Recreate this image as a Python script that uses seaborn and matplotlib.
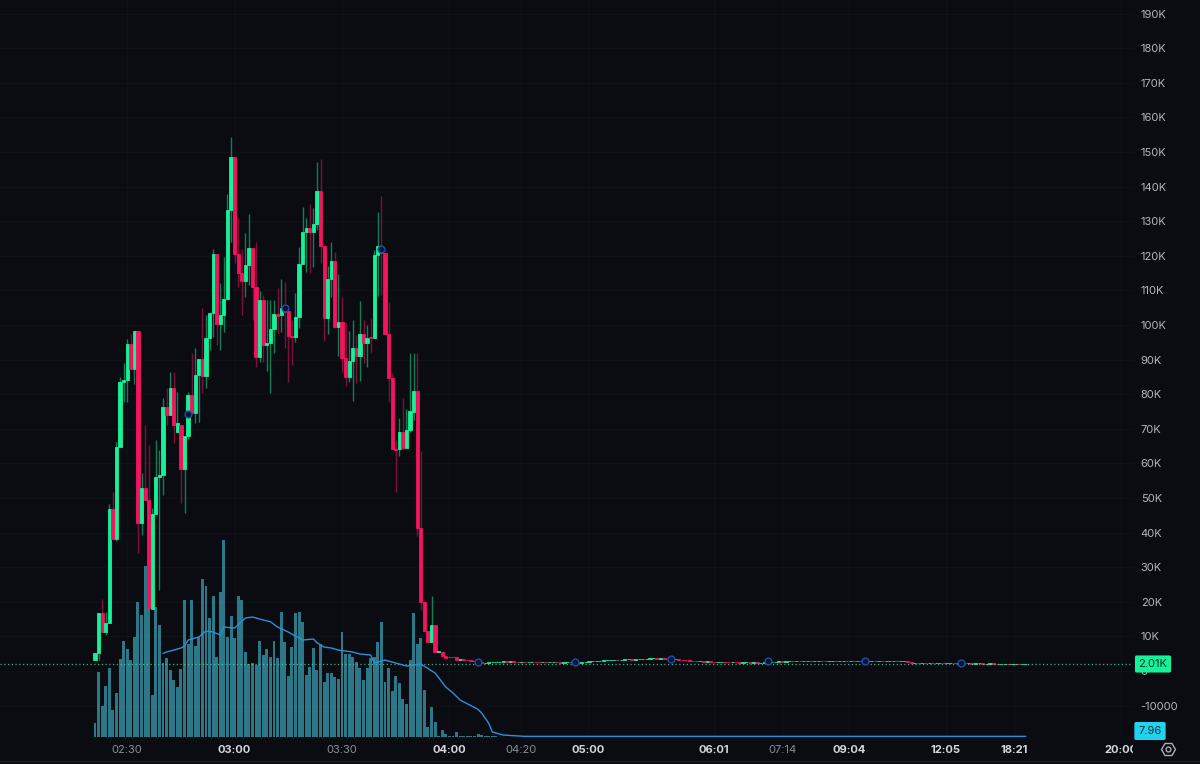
"""
Candlestick chart with volume bars and a volume average, dark theme.
"""

import matplotlib.pyplot as plt
import numpy as np
import pandas as pd
import seaborn as sns
from matplotlib.lines import Line2D
from matplotlib.transforms import Bbox

# one row per minute candle, prices in thousands
opens = [
    3.2, 5.3, 16.7, 11.2, 13.8, 46.8, 38.1, 64.7, 83.5, 84, 94.5, 87.3, 98.3, 42.8, 52.9, 49.4, 17.9,
    45.4, 56, 56.6, 76.3, 74, 81.8, 69, 71, 58.4, 67.9, 79.8, 74.6, 85.5, 90.2, 85.3, 96.2, 103.5,
    120.5, 100.3, 102.9, 107.5, 133.2, 148.6, 120.5, 115, 112.7, 117.3, 122.2, 111, 90.8, 107.2,
    94.2, 94.7, 98.8, 103.1, 102.9, 104.8, 104.1, 96.9, 96.4, 102.2, 117.5, 127, 127.9, 126.8,
    129.1, 138.7, 122.9, 101.9, 113.3, 118.5, 99.5, 101, 90.4, 84.9, 89.6, 93.3, 90.9, 97.4, 94.7,
    96.4, 96.1, 120.2, 122.9, 120.7, 97.4, 84.8, 64.3, 64.3, 69, 64.5, 69.6, 75, 80.9, 41.4, 19.8,
    11.5, 8.5, 13.3, 5.6, 5.6, 4.3, 4.1, 4.1, 4.1,
]
closes = [
    5.3, 16.7, 11.2, 13.8, 46.8, 38.1, 64.7, 83.5, 84, 94.5, 87.3, 98.3, 42.8, 52.9, 49.4, 18.2, 45.4,
    56, 56.6, 76.3, 74, 81.8, 71, 71.7, 58.4, 67.9, 79.8, 74.6, 85.5, 90.2, 85.3, 96.2, 103.5, 120.5,
    100.3, 102.9, 107.5, 133.2, 148.6, 120.5, 115, 112.7, 117.3, 122.2, 111, 90.8, 107.2, 94.2,
    94.7, 98.8, 103.1, 102.7, 104.8, 103.9, 96.9, 96.4, 102.2, 117.5, 127, 127.9, 126.8, 129.1,
    138.7, 122.9, 101.9, 113.3, 118.5, 99.5, 101, 90.4, 84.9, 89.6, 93.3, 90.9, 97.4, 94.7, 96.1,
    96.1, 120.2, 122.9, 120.7, 97.4, 84.8, 64.3, 64, 69, 64.5, 69.6, 75.1, 80.9, 41.4, 19.8, 11.5,
    8.5, 13.3, 5.6, 5.9, 4.3, 3.9, 4.0, 4.0, 3.2,
]
highs = [
    5.3, 16.7, 20.8, 17.1, 48.2, 51.7, 66.2, 85, 89, 96, 97.4, 98.3, 98.3, 57.2, 71, 65.3, 47,
    66.8, 63.9, 78.9, 81.8, 86.4, 86.4, 80.6, 71, 67.9, 80.6, 91.9, 93.4, 90.2, 105, 102.9, 103.8, 122,
    120.5, 112, 119.7, 137.9, 154.3, 148.6, 130.9, 122, 126.6, 132, 122.2, 124, 109.8, 108.7,
    107.2, 107.2, 107.2, 110.6, 113.3, 112.5, 104.1, 101.4, 109.3, 122.6, 134, 130.8, 134.9, 133.7,
    147.2, 147.9, 122.9, 117, 124.1, 121.2, 114.6, 108.2, 101, 98.4, 101.4, 97.1, 106.9, 101.4, 100,
    101.9, 121.7, 132.6, 137.4, 120.7, 106.7, 86.2, 66.7, 73, 78.8, 75.6, 92, 92, 92, 63.7, 19.8,
    11.5, 21.6, 13.3, 5.9, 5.6, 4.3, 4.1, 4.1, 4.1,
]
lows = [
    3.2, 3.2, 11.2, 10.4, 13.8, 38.1, 37.5, 64.7, 77.7, 77.7, 87.3, 83, 34, 39.3, 49.4, 18.2, 17.9,
    45.4, 23.4, 50.9, 71, 74, 65.9, 69, 48.5, 45.7, 67, 74.6, 71.7, 72, 80.3, 81.8, 92.8, 96.5,
    94.2, 92.8, 98, 107.5, 124, 118, 111, 102.9, 108, 111.6, 101.4, 87.9, 89.3, 89.3,
    86.8, 80.4, 92, 97.6, 98.1, 93.3, 83.4, 88.5, 95.2, 99, 117.5, 115.4, 114.9, 116.9,
    127.5, 117.8, 95.5, 97.4, 108.2, 99.5, 90.9, 86.5, 82.5, 83.6, 78, 83.1, 83.9, 88.9, 88,
    91.8, 96.1, 108.5, 108.7, 97.4, 77.8, 64.3, 51.8, 62.1, 64.5, 64.5, 69, 72.5, 39, 17.6, 11.5,
    8.5, 8.5, 5.6, 5.6, 4.3, 3.9, 4.0, 4.0, 3.2,
]

# the long flat tail, closes only
tail_closes = [
    3.4, 3.3, 3.2, 3.0, 2.8, 2.6, 2.3, 2.4, 2.5, 2.6, 2.7, 2.7, 2.8, 2.7, 2.8, 2.7, 2.6, 2.7, 2.6, 2.6,
    2.7, 2.6, 2.5, 2.6, 2.5, 2.6, 2.6, 2.5, 2.4, 2.5, 2.5, 2.6, 2.5, 2.4, 2.6, 2.7, 2.8, 2.9, 3.0, 3.0,
    3.1, 3.2, 3.2, 3.3, 3.2, 3.3, 3.4, 3.4, 3.3, 3.4, 3.5, 3.6, 3.6, 3.7, 3.7, 3.6, 3.7, 3.6, 3.5, 3.4,
    3.4, 3.3, 3.2, 3.1, 3.0, 2.9, 2.8, 2.8, 2.7, 2.8, 2.7, 2.6, 2.6, 2.7, 2.6, 2.5, 2.6, 2.5, 2.4, 2.5,
    2.5, 2.4, 2.5, 2.4, 2.4, 2.5, 2.6, 2.6, 2.7, 2.8, 2.7, 2.8, 2.9, 2.8, 2.9, 2.8, 2.9, 3.0, 2.9, 2.9,
    3.0, 2.9, 2.8, 2.9, 3.0, 2.9, 2.9, 3.0, 2.9, 2.9, 2.8, 2.9, 2.9, 2.9, 2.9, 3.0, 2.9, 2.9, 2.8, 2.9,
    2.9, 2.9, 2.8, 2.9, 2.9, 2.5, 2.4, 2.4, 2.3, 2.4, 2.3, 2.3, 2.2, 2.3, 2.3, 2.2, 2.2, 2.3, 2.2, 2.2,
    2.3, 2.2, 2.2, 2.1, 2.2, 2.2, 2.1, 2.1, 2.2, 2.1, 2.0, 2.1, 2.1, 2.0, 2.0, 2.1, 2.0, 2.01, 2.01,
]

volumes = [
    42, 193, 92, 152, 207, 80, 132, 232, 286, 262, 230, 300, 403, 365, 513, 385, 125, 388, 335, 220,
    235, 200, 170, 148, 204, 410, 277, 410, 272, 300, 472, 452, 355, 422, 238, 434, 590, 298, 363,
    295, 422, 410, 255, 218, 220, 215, 288, 245, 262, 240, 288, 235, 375, 285, 182, 268, 370, 374,
    345, 185, 208, 265, 200, 277, 165, 190, 192, 178, 174, 315, 248, 247, 240, 225, 207, 170, 205,
    237, 240, 283, 345, 165, 207, 138, 182, 160, 113, 98, 230, 370, 277, 295, 140, 30, 88, 45, 2,
    20, 8, 3, 3, 14, 2, 1, 1, 1, 1, 8, 5, 1, 1, 1, 1,
]

ma_index = [19, 20, 22, 24, 25, 26, 29, 31, 33, 35, 36, 39, 42, 44, 47, 49, 51, 54, 58, 61, 62, 64,
            66, 68, 72, 74, 77, 78, 81, 85, 87, 91, 95, 98, 100, 102, 107, 108, 110, 111, 114, 120, 260]
ma_values = [250, 254, 260, 266, 272, 290, 299, 317, 314, 305, 329, 326, 356, 359, 350, 345, 329, 314,
             290, 293, 282, 269, 266, 260, 254, 248, 245, 221, 230, 218, 212, 218, 191, 149, 131, 110,
             82, 71, 40, 14, 5, 1, 1]

marker_index = [26, 53, 80, 107, 134, 161, 188, 215, 242]
marker_prices = [74.2, 104.8, 122.0, 2.6, 2.5, 3.4, 2.9, 2.9, 2.2]

price_ticks = [190, 180, 170, 160, 150, 140, 130, 120, 110, 100, 90, 80, 70, 60, 50, 40, 30, 20, 10, 0, -10]
price_labels = ["190K", "180K", "170K", "160K", "150K", "140K", "130K", "120K", "110K", "100K", "90K",
                "80K", "70K", "60K", "50K", "40K", "30K", "20K", "10K", "0", "-10000"]

time_ticks = [9, 39, 69, 99, 119, 137.7, 172.9, 191.9, 210.6, 237.7, 256.7, 286.6]
time_labels = ["02:30", "03:00", "03:30", "04:00", "04:20", "05:00", "06:01", "07:14", "09:04",
               "12:05", "18:21", "20:00"]
bold_times = ["03:00", "04:00", "05:00", "06:01", "09:04", "12:05", "18:21", "20:00"]

BG = "#0a0c12"
UP = "#14f29a"
DOWN = "#f5135f"
VOLUME = "#2c7888"
MA = "#2f8fd8"
W, H = 1200, 764
PANE_W, PANE_H = 1133, 738
XLIM = (-95 / 3.58, (PANE_W - 95) / 3.58)
YLIM = ((671 - PANE_H) / 3.46, 671 / 3.46)
VOL_LIM = (-(PANE_H - 736.7) * 3, 736.7 * 3)


def pane(fig, z):
    ax = fig.add_axes([0, 1 - PANE_H / H, PANE_W / W, PANE_H / H], zorder=z)
    ax.patch.set_visible(False)
    for spine in ax.spines.values():
        spine.set_visible(False)
    return ax


sns.set_theme(style="dark")
plt.rcParams["font.family"] = ["Inter", "DejaVu Sans"]

all_opens = opens + [closes[-1]] + tail_closes[:-1]
all_closes = closes + tail_closes
df = pd.DataFrame({"open": all_opens, "close": all_closes})
df["high"] = highs + [max(a, b) for a, b in zip(all_opens[len(highs):], tail_closes)]
df["low"] = lows + [min(a, b) for a, b in zip(all_opens[len(lows):], tail_closes)]
df["idx"] = np.arange(len(df))
df["color"] = np.where(df["close"] >= df["open"], UP, DOWN)

fig = plt.figure(figsize=(W / 100, H / 100), dpi=100, facecolor=BG)

vol_ax = pane(fig, 1)
vol_df = pd.DataFrame({"idx": np.arange(len(volumes)), "volume": volumes})
sns.barplot(data=vol_df, x="idx", y="volume", native_scale=True, width=0.82, color=VOLUME,
            saturation=1, linewidth=0, ax=vol_ax)
vol_ax.set(xlim=XLIM, ylim=VOL_LIM, xlabel="", ylabel="", xticks=[], yticks=[])

ax = pane(fig, 2)
ax.vlines(df["idx"], df["low"], df["high"], colors=df["color"], linewidth=1.0, alpha=0.5)
ax.bar(df["idx"], (df["close"] - df["open"]).abs(), bottom=df[["open", "close"]].min(axis=1),
       width=0.9, color=df["color"], edgecolor=df["color"], linewidth=0.6)
ax.axhline(2.01, color="#4fd6a4", linewidth=0.9, linestyle=(0, (1, 2)), alpha=0.8)
ax.scatter(marker_index, marker_prices, s=24, facecolors="#0b1430", edgecolors="#1f4fa8",
           linewidths=1.0, zorder=5)
ax.set_xlim(XLIM)
ax.set_ylim(YLIM)
ax.yaxis.tick_right()
ax.set_yticks(price_ticks, price_labels)
ax.set_xticks(time_ticks, time_labels)
ax.grid(True, color="#ffffff", alpha=0.025, linewidth=1.0)
ax.tick_params(axis="y", length=0, pad=5.5, labelsize=8, labelcolor="#b4b7be")
ax.tick_params(axis="x", length=0, pad=5, labelsize=8)
clip = Bbox([[0, 0], [PANE_W, H]])
for label in ax.get_xticklabels():
    is_bold = label.get_text() in bold_times
    label.set_color("#d5d7dc" if is_bold else "#8a8e97")
    label.set_fontweight("bold" if is_bold else "normal")
    label.set_clip_box(clip)
    label.set_clip_on(True)

ma_ax = pane(fig, 3)
sns.lineplot(x=ma_index, y=ma_values, color=MA, linewidth=1.0, ax=ma_ax)
ma_ax.set(xlim=XLIM, ylim=VOL_LIM, xlabel="", ylabel="", xticks=[], yticks=[])

fig.text(1153 / W, 1 - 664 / H, "2.01K", color="#08331f", fontsize=8, ha="center", va="center",
         bbox=dict(boxstyle="round,pad=0.32,rounding_size=0.15", facecolor=UP, edgecolor="none"), zorder=6)
fig.text(1150 / W, 1 - 731 / H, "7.96", color="#06303c", fontsize=8, ha="center", va="center",
         bbox=dict(boxstyle="round,pad=0.36,rounding_size=0.15", facecolor="#22d3ee", edgecolor="none"), zorder=6)
fig.add_artist(Line2D([1168 / W], [1 - 749 / H], marker="H", markersize=10, markerfacecolor="none",
                      markeredgecolor="#a9adb5", markeredgewidth=1.0))
fig.add_artist(Line2D([1168 / W], [1 - 749 / H], marker="o", markersize=3.5, markerfacecolor="none",
                      markeredgecolor="#a9adb5", markeredgewidth=1.0))
fig.add_artist(Line2D([0, 1], [1 - 761 / H, 1 - 761 / H], color="#1a1c22", linewidth=1.0))

fig.savefig("out.png", dpi=100, facecolor=BG)
plt.close(fig)
